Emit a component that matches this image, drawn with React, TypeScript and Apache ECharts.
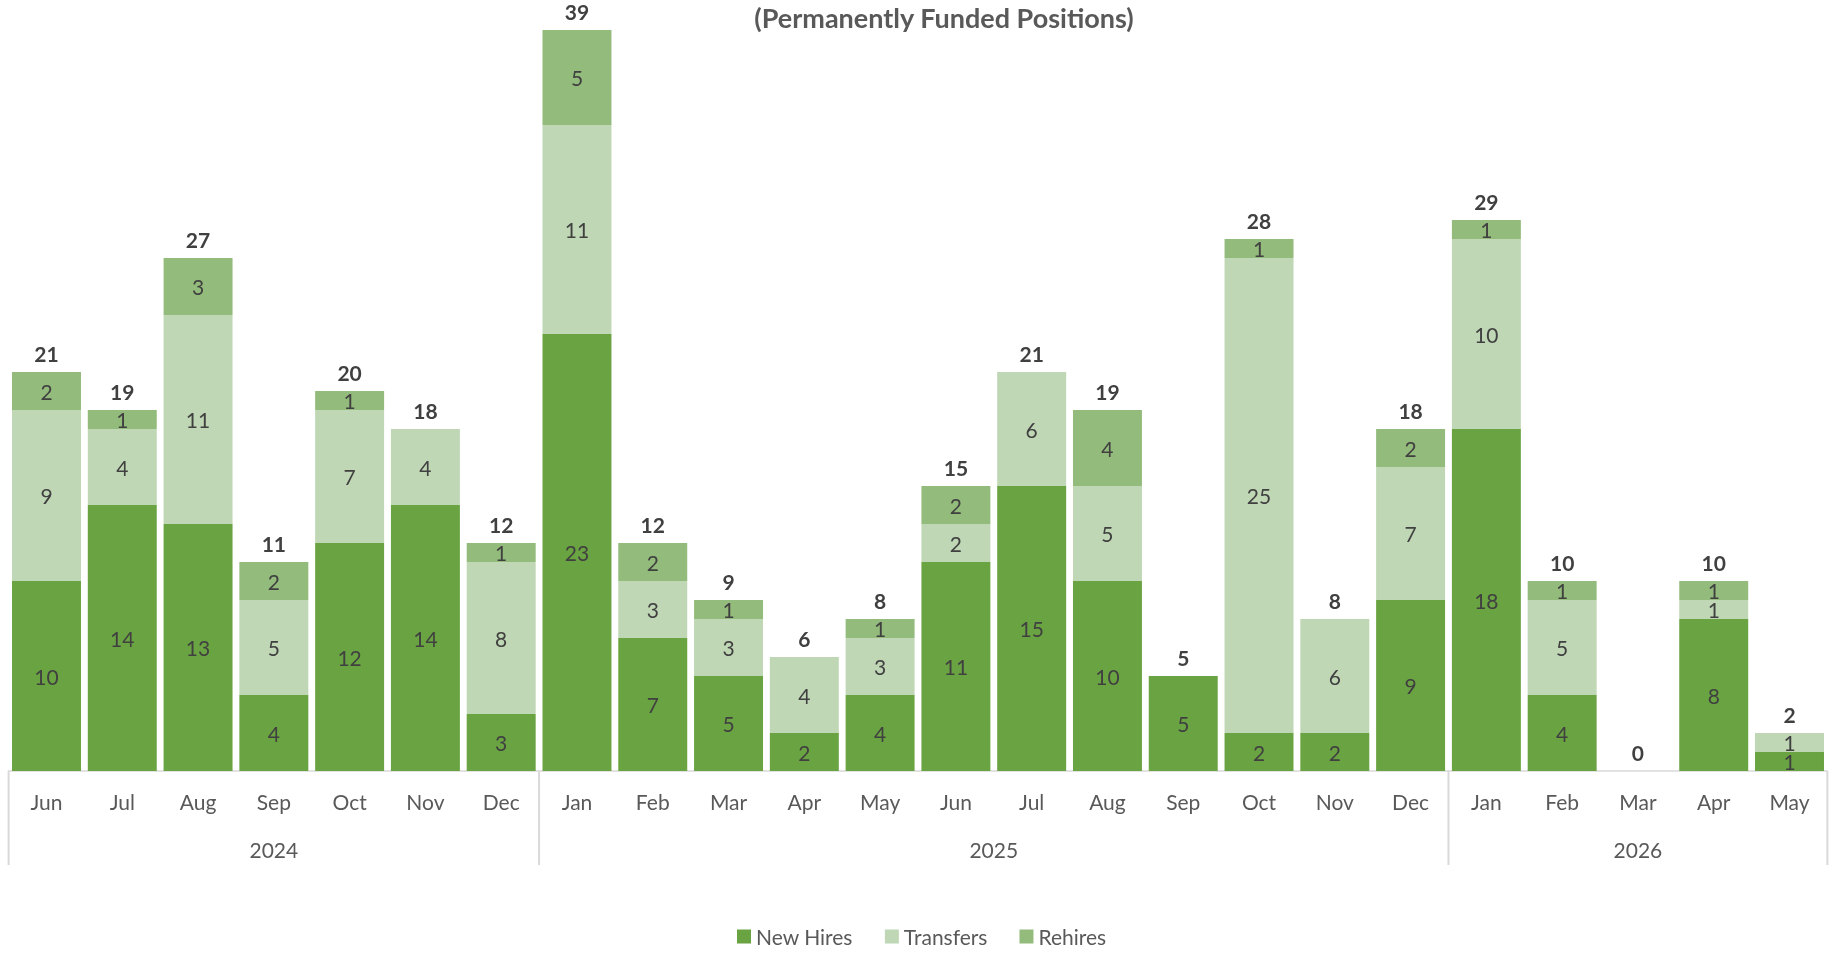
import React, { useEffect, useRef } from "react";
import * as echarts from "echarts";

const months = ["Jun","Jul","Aug","Sep","Oct","Nov","Dec","Jan","Feb","Mar","Apr","May","Jun","Jul","Aug","Sep","Oct","Nov","Dec","Jan","Feb","Mar","Apr","May"];
const years = ["2024","2024","2024","2024","2024","2024","2024","2025","2025","2025","2025","2025","2025","2025","2025","2025","2025","2025","2025","2026","2026","2026","2026","2026"];
const newHires = [10,14,13,4,12,14,3,23,7,5,2,4,11,15,10,5,2,2,9,18,4,0,8,1];
const transfers = [9,4,11,5,7,4,8,11,3,3,4,3,2,6,5,0,25,6,7,10,5,0,1,1];
const rehires = [2,1,3,2,1,0,1,5,2,1,0,1,2,0,4,0,1,0,2,1,1,0,1,0];

const titleText = "(Permanently Funded Positions)";
const FONT = "Lato, 'Open Sans', sans-serif";
const C_NEW = "#6aa342";
const C_TRANS = "#bfd7b4";
const C_RE = "#93bb7b";

export default function App() {
  const ref = useRef<HTMLDivElement>(null);
  useEffect(() => {
    if (!ref.current) return;
    const chart = echarts.init(ref.current, undefined, { renderer: "svg" });
    const totals = months.map((_, i) => newHires[i] + transfers[i] + rehires[i]);
    const segLabel = {
      show: true,
      position: "inside",
      color: "#404040",
      fontSize: 21,
      fontFamily: FONT,
      formatter: (p: any) => (p.value === 0 ? "" : String(p.value)),
    };
    chart.setOption({
      animation: false,
      grid: { left: 8.6, right: 1.6, top: 11, bottom: 184, containLabel: false },
      legend: {
        data: ["New Hires", "Transfers", "Rehires"],
        left: 732,
        top: 921,
        icon: "rect",
        itemWidth: 14,
        itemHeight: 14,
        itemGap: 32,
        textStyle: { fontSize: 21, color: "#595959", fontFamily: FONT },
      },
      xAxis: {
        type: "category",
        data: months,
        axisLine: { show: true, lineStyle: { color: "#d9d9d9", width: 1.5 } },
        axisTick: { show: false },
        axisLabel: { interval: 0, margin: 20, fontSize: 21, color: "#595959", fontFamily: FONT },
      },
      yAxis: {
        type: "value",
        min: 0,
        max: 40,
        show: false,
        splitLine: { show: false },
      },
      series: [
        { name: "New Hires", type: "bar", stack: "s", data: newHires, barCategoryGap: "9%", itemStyle: { color: C_NEW }, label: segLabel },
        { name: "Transfers", type: "bar", stack: "s", data: transfers, itemStyle: { color: C_TRANS }, label: segLabel },
        { name: "Rehires", type: "bar", stack: "s", data: rehires, itemStyle: { color: C_RE }, label: segLabel },
        {
          name: "Total",
          type: "bar",
          stack: "s",
          data: months.map(() => 0),
          itemStyle: { color: "transparent" },
          label: {
            show: true,
            position: "top",
            distance: 8,
            color: "#404040",
            fontSize: 21,
            fontWeight: "bold",
            fontFamily: FONT,
            formatter: (p: any) => String(totals[p.dataIndex]),
          },
        },
      ],
    });

    // year group labels and separators
    const c0 = chart.convertToPixel({ xAxisIndex: 0 }, 0) as number;
    const c1 = chart.convertToPixel({ xAxisIndex: 0 }, 1) as number;
    const step = c1 - c0;
    const base = chart.convertToPixel({ yAxisIndex: 0 }, 0) as number;
    const graphics: any[] = [];
    const groups: { year: string; start: number; end: number }[] = [];
    years.forEach((y, i) => {
      const g = groups[groups.length - 1];
      if (g && g.year === y) g.end = i;
      else groups.push({ year: y, start: i, end: i });
    });
    const edge = (i: number) => c0 + step * i - step / 2;
    const bottomY = base + 94;
    groups.forEach((g, gi) => {
      const l = edge(g.start);
      const r = edge(g.end + 1);
      if (gi === 0) {
        graphics.push({ type: "line", shape: { x1: l, y1: base, x2: l, y2: bottomY }, style: { stroke: "#d9d9d9", lineWidth: 2 } });
      }
      graphics.push({ type: "line", shape: { x1: r, y1: base, x2: r, y2: bottomY }, style: { stroke: "#d9d9d9", lineWidth: 2 } });
      graphics.push({
        type: "text",
        x: (l + r) / 2,
        y: base + 78,
        style: { text: g.year, fill: "#595959", font: `21px ${FONT}`, textAlign: "center", textVerticalAlign: "middle" },
      });
    });
    graphics.push({
      type: "text",
      x: 944,
      y: 17,
      style: { text: titleText, fill: "#595959", font: `bold 27px ${FONT}`, textAlign: "center", textVerticalAlign: "middle" },
    });
    chart.setOption({ graphic: graphics });

    return () => chart.dispose();
  }, []);
  return <div ref={ref} style={{ position: "fixed", left: 0, top: 0, width: 1829, height: 955 }} />;
}
